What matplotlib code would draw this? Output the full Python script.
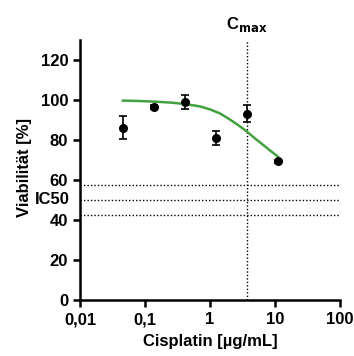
import matplotlib
matplotlib.use("Agg")
import matplotlib.pyplot as plt
from matplotlib.ticker import FixedLocator, NullLocator

plt.rcParams['font.family'] = ['Liberation Sans', 'DejaVu Sans']
plt.rcParams['font.weight'] = 'bold'

# measured points
conc = [0.0457, 0.137, 0.41, 1.23, 3.7, 11.1]
viability = [86.2, 96.5, 99.0, 81.0, 93.2, 69.3]
viability_err = [5.8, 0.8, 3.5, 3.3, 4.4, 0.8]

# fitted curve
fit_conc = [0.0457, 0.08, 0.137, 0.25, 0.41, 0.7, 1.0, 1.4, 1.8, 2.6, 3.7, 5.0, 6.6, 8.5, 11.1]
fit_viab = [99.7, 99.5, 99.2, 98.7, 98.0, 96.8, 95.3, 93.4, 91.3, 87.9, 84.2, 80.6, 77.5, 74.6, 71.7]

c_max = 3.7
ic50_band = [57.7, 50.0, 42.3]

x_ticks = [0.01, 0.1, 1, 10, 100]
x_ticklabels = ['0,01', '0,1', '1', '10', '100']
y_ticks = [0, 20, 40, 60, 80, 100, 120]

FS = 12

fig = plt.figure(figsize=(3.54, 3.56), dpi=100)
ax = fig.add_axes([80 / 354, 56 / 356, 260 / 354, 260 / 356])

for y in ic50_band:
    ax.plot([0.01, 100], [y, y], color='black', linestyle=(0, (1, 1.5)), linewidth=1.0, zorder=1)
ax.plot([c_max, c_max], [0, 130], color='black', linestyle=(0, (1, 1.5)), linewidth=1.0, zorder=1)

ax.plot(fit_conc, fit_viab, color='#43a040', linewidth=1.8, zorder=2)
ax.errorbar(conc, viability, yerr=viability_err, fmt='o', color='black', markersize=5.5,
            capsize=3, elinewidth=1.2, capthick=1.2, zorder=3)

ax.set_xscale('log')
ax.set_xlim(0.01, 100)
ax.set_ylim(0, 130)
ax.xaxis.set_major_locator(FixedLocator(x_ticks))
ax.xaxis.set_minor_locator(NullLocator())
ax.set_xticklabels(x_ticklabels)
ax.set_yticks(y_ticks)

for side in ['top', 'right']:
    ax.spines[side].set_visible(False)
for side in ['left', 'bottom']:
    ax.spines[side].set_linewidth(1.8)
ax.tick_params(axis='both', direction='out', length=5, width=1.8, labelsize=FS)
ax.tick_params(axis='x', pad=4)
ax.tick_params(axis='y', pad=3.5)
for lbl in ax.get_xticklabels() + ax.get_yticklabels():
    lbl.set_fontweight('bold')

ax.set_xlabel('Cisplatin [µg/mL]', fontsize=FS, fontweight='bold', labelpad=5)
ax.set_ylabel('Viabilität [%]', fontsize=FS, fontweight='bold')
ax.yaxis.set_label_coords(-0.185, 0.51)

ax.text(-0.038, 50, 'IC50', transform=ax.get_yaxis_transform(), ha='right', va='center',
        fontsize=FS, fontweight='bold')
ax.text(c_max, 133, r'C$_{\mathbf{max}}$', ha='center', va='bottom', fontsize=FS, fontweight='bold')

fig.savefig('out.png', dpi=100)
